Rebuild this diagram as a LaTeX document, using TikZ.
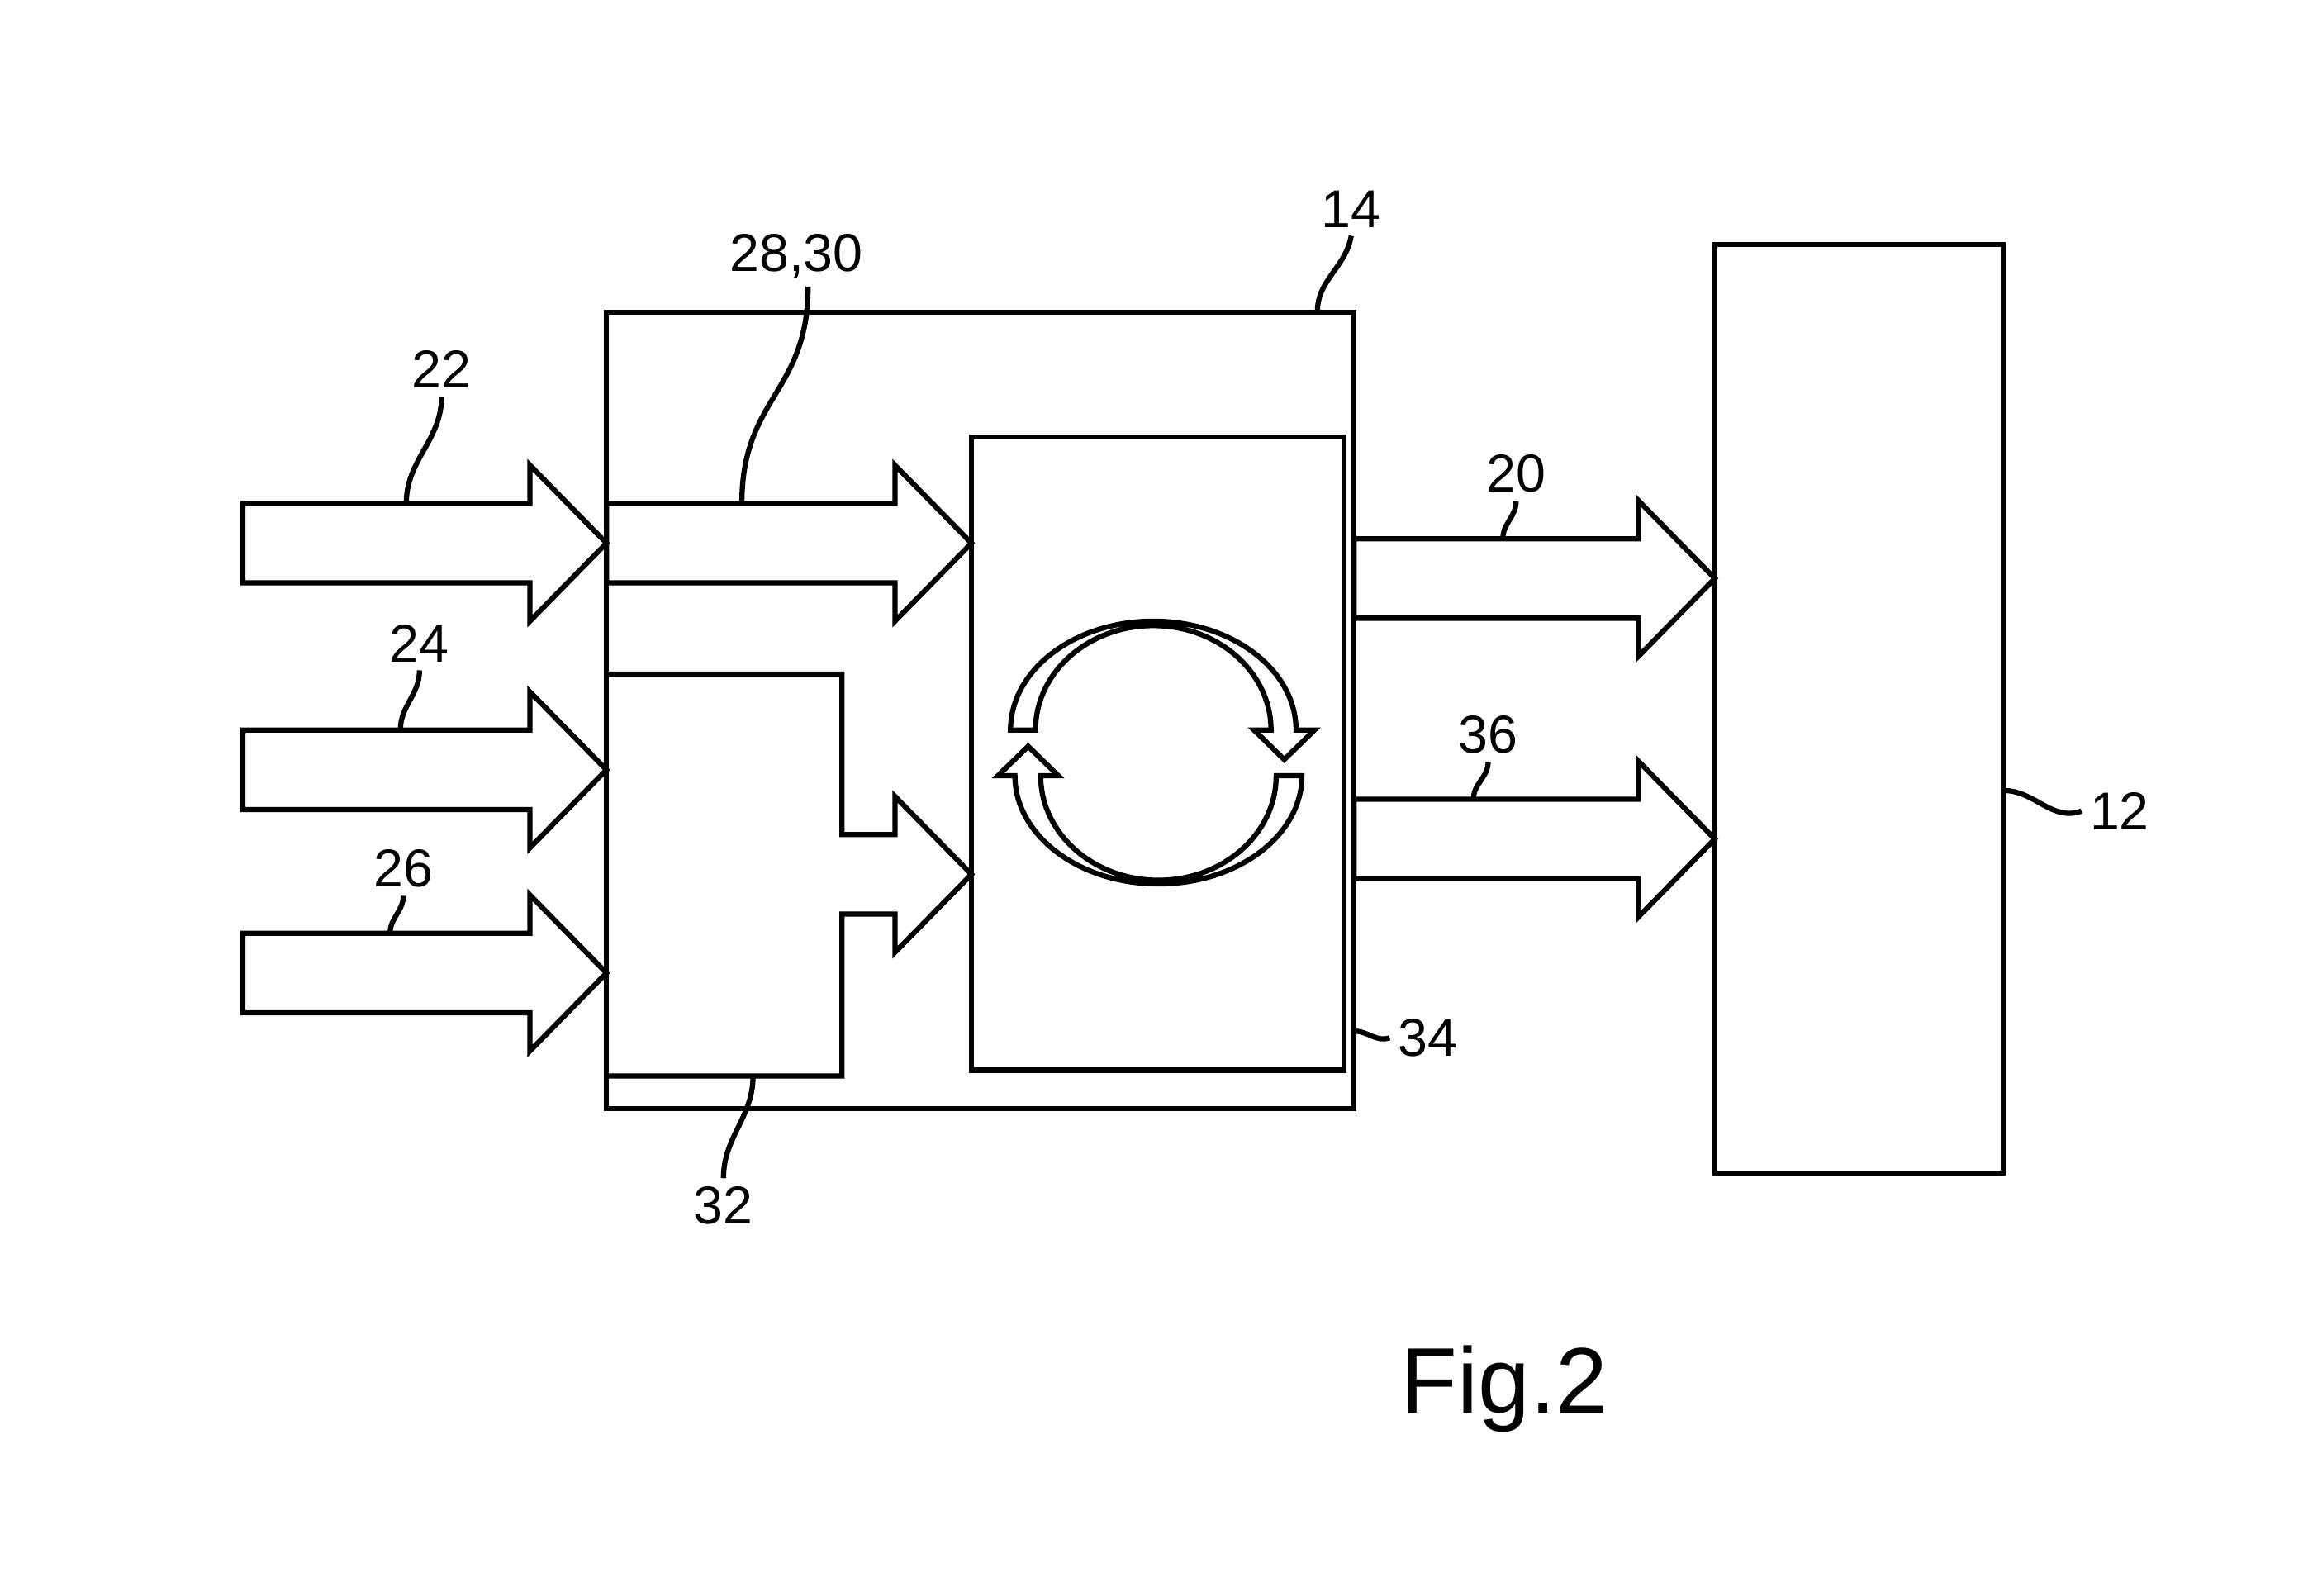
\documentclass[tikz,border=0pt]{standalone}
\usepackage{fontspec}
\setmainfont{Liberation Sans}
\usetikzlibrary{calc}

\tikzset{
  box/.style={draw=black,rectangle,inner sep=0pt,outer sep=0pt},
  num/.style={inner sep=0.4mm,font=\fontsize{10.3}{12}\selectfont},
  lead/.style={draw=black},
  % wide hollow arrow from tail midpoint to tip
  fatarrow/.style={to path={
    ($(\tikztostart)+(0,27)$) -- ($(\tikztotarget)+(-52,27)$) -- ($(\tikztotarget)+(-52,53)$)
    -- (\tikztotarget) -- ($(\tikztotarget)+(-52,-53)$) -- ($(\tikztotarget)+(-52,-27)$)
    -- ($(\tikztostart)+(0,-27)$) -- cycle}},
}

\begin{document}
\begin{tikzpicture}[x=0.1mm,y=0.1mm,line width=1pt]
                \useasboundingbox (0,0) rectangle (1568,1084);
                \node[box,minimum width=50.8mm,minimum height=54.1mm](b14)at(666,601.5){};
                \node[box,minimum width=25.3mm,minimum height=43mm](b34)at(786.5,572){};
                \node[box,minimum width=19.6mm,minimum height=63.1mm](b12)at(1263,602.5){};
                % box 32 with its own arrow into 34
                \draw (b14.west|-0,626) -- (572,626) -- (572,517) -- (608,517) -- (608,543)
                  -- (b34.west|-0,490) -- (608,437) -- (608,463) -- (572,463) -- (572,353) -- (b14.west|-0,353);
                % tails and tips
                \coordinate(t22)at(165,715); \coordinate(h22)at(t22-|b14.west);
                \coordinate(t24)at(165,561); \coordinate(h24)at(t24-|b14.west);
                \coordinate(t26)at(165,423); \coordinate(h26)at(t26-|b14.west);
                \coordinate(h28)at(h22-|b34.west);
                \coordinate(t20)at(b14.east|-0,691); \coordinate(h20)at(t20-|b12.west);
                \coordinate(t36)at(b14.east|-0,514); \coordinate(h36)at(t36-|b12.west);
                \path[draw](t22) edge[fatarrow] (h22)
                (t24) edge[fatarrow] (h24)
                (t26) edge[fatarrow] (h26)
                (h22) edge[fatarrow] (h28)
                (t20) edge[fatarrow] (h20)
                (t36) edge[fatarrow] (h36);
                % circulation symbol
                \draw (686.5,588) arc[start angle=180,end angle=0,x radius=9.7mm,y radius=7.4mm]
                  -- (893,588) -- (872.5,568) -- (852,588) -- (863.5,588)
                  arc[start angle=0,end angle=180,x radius=8mm,y radius=7.1mm] -- cycle;
                \draw (884.5,557) arc[start angle=0,end angle=-180,x radius=9.75mm,y radius=7.35mm]
                  -- (678,557) -- (698.5,577) -- (719,557) -- (707,557)
                  arc[start angle=180,end angle=360,x radius=8mm,y radius=7.1mm] -- cycle;
                % reference numerals
                \node[num](l22)at(300,833){22};
                \node[num](l24)at(285,647){24};
                \node[num](l26)at(274,494){26};
                \node[num](l2830)at(541,910){28,30};
                \node[num](l14)at(918,942){14};
                \node[num](l20)at(1030,762){20};
                \node[num](l36)at(1011,585){36};
                \node[num](l12)at(1440,533){12};
                \node[num](l34)at(970,379){34};
                \node[num](l32)at(491.5,265){32};
                \node[font=\fontsize{18}{22}\selectfont,anchor=base](fig)at(1022,124){Fig.2};
                \coordinate(p22)at(276,742);
                \coordinate(p24)at(272,588);
                \coordinate(p26)at(265,450);
                \coordinate(p2830)at(504,742);
                \coordinate(p14)at(895,872);
                \coordinate(p20)at(1021,718);
                \coordinate(p36)at(1001,541);
                \coordinate(p12)at(1361,547);
                \coordinate(p34)at(920,383.5);
                \coordinate(p32)at(511.6,353);
                \path[lead](l22.south) edge[out=-90,in=90] (p22)
                (l24.south) edge[out=-90,in=90] (p24)
                (l26.south) edge[out=-90,in=90] (p26)
                ([xshift=0.8mm]l2830.south) edge[out=-90,in=90,looseness=1.2] (p2830)
                (l14.south) edge[out=-100,in=90] (p14)
                (l20.south) edge[out=-90,in=90] (p20)
                (l36.south) edge[out=-90,in=90] (p36)
                (p12) edge[out=0,in=200] (l12.west)
                (p34) edge[out=0,in=200] (l34.west)
                (p32) edge[out=-90,in=90] (l32.north);
            \end{tikzpicture}
\end{document}
